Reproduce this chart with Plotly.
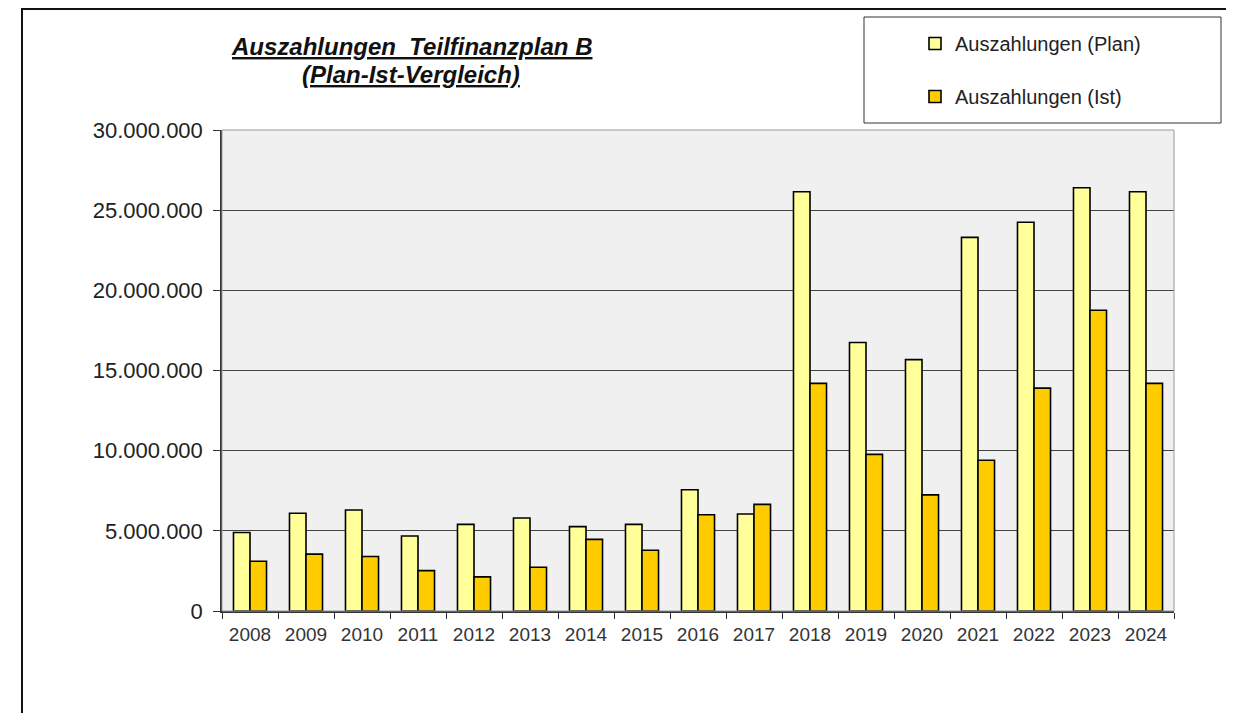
import plotly.graph_objects as go

years = ["2008", "2009", "2010", "2011", "2012", "2013", "2014", "2015", "2016",
         "2017", "2018", "2019", "2020", "2021", "2022", "2023", "2024"]
plan = [4.9, 6.1, 6.3, 4.68, 5.4, 5.8, 5.26, 5.4, 7.56,
        6.05, 26.15, 16.75, 15.68, 23.3, 24.25, 26.4, 26.15]
ist = [3.1, 3.55, 3.4, 2.52, 2.13, 2.73, 4.47, 3.79, 6.0,
       6.65, 14.2, 9.77, 7.24, 9.4, 13.9, 18.76, 14.2]
plan = [v * 1e6 for v in plan]
ist = [v * 1e6 for v in ist]

y_ticks = [0, 5e6, 10e6, 15e6, 20e6, 25e6, 30e6]

# page has an 8px body margin -> work in figure coordinates (page - 8)
O = 8
W, H = 1234 - O, 713 - O
L, R, T, B = 222 - O, 1174 - O, 130 - O, 611 - O


def px(x):
    return (x - O - L) / (R - L)


def py(y):
    return (B - (y - O)) / (B - T)


FONT = "Liberation Sans, Arial, sans-serif"

fig = go.Figure()
fig.add_trace(go.Bar(
    x=years, y=plan, name="Auszahlungen (Plan)", legendgroup="a",
    marker=dict(color="#FFFF99", line=dict(color="#000000", width=1.6)),
))
fig.add_trace(go.Bar(
    x=years, y=ist, name="Auszahlungen (Ist)", legendgroup="b",
    marker=dict(color="#FFCC00", line=dict(color="#000000", width=1.6)),
))

shapes = [
    # outer frame
    dict(type="line", xref="paper", yref="paper", x0=px(22), x1=px(1240), y0=py(9), y1=py(9),
         line=dict(color="#111", width=2)),
    dict(type="line", xref="paper", yref="paper", x0=px(22), x1=px(22), y0=py(8), y1=py(720),
         line=dict(color="#111", width=2)),
    # legend box
    dict(type="rect", xref="paper", yref="paper", x0=px(864), x1=px(1221), y0=py(17), y1=py(123),
         line=dict(color="#333", width=1), fillcolor="rgba(0,0,0,0)"),
    # plot area border
    dict(type="rect", xref="paper", yref="paper", x0=0, x1=1, y0=0, y1=1,
         line=dict(color="#999", width=1), fillcolor="rgba(0,0,0,0)", layer="above"),
]

fig.update_layout(
    width=W, height=H,
    margin=dict(l=L, r=W - R, t=T, b=H - B, autoexpand=False),
    paper_bgcolor="white",
    plot_bgcolor="#F0F0F0",
    separators=",.",
    barmode="group",
    bargap=0.41,
    bargroupgap=0,
    font=dict(family=FONT, color="#222", size=19),
    showlegend=True,
    legend=dict(
        x=px(915), y=py(24), xanchor="left", yanchor="top",
        bgcolor="rgba(0,0,0,0)", borderwidth=0,
        tracegroupgap=24, font=dict(size=20, color="#222"),
        traceorder="grouped",
    ),
    shapes=shapes,
    annotations=[
        dict(text="<b><i><u>Auszahlungen  Teilfinanzplan B</u></i></b>",
             xref="paper", yref="paper", x=px(411), y=py(47), xanchor="center", yanchor="middle",
             showarrow=False, font=dict(size=24, color="#111", family=FONT)),
        dict(text="<b><i><u>(Plan-Ist-Vergleich)</u></i></b>",
             xref="paper", yref="paper", x=px(411), y=py(75), xanchor="center", yanchor="middle",
             showarrow=False, font=dict(size=24, color="#111", family=FONT)),
    ],
    xaxis=dict(
        showline=True, linecolor="#333", linewidth=1.5,
        ticks="outside", ticklen=6, tickcolor="#333", tickson="boundaries",
        tickfont=dict(size=19, color="#333"), showgrid=False, ticklabelstandoff=5,
    ),
    yaxis=dict(
        range=[0, 30e6], tickvals=y_ticks, tickformat=",d",
        showline=True, linecolor="#333", linewidth=1.5,
        ticks="outside", ticklen=7, tickcolor="#333",
        tickfont=dict(size=22, color="#222"), ticklabelstandoff=6,
        showgrid=True, gridcolor="#444", gridwidth=1, zeroline=False,
    ),
)

fig.write_html("out.html")
